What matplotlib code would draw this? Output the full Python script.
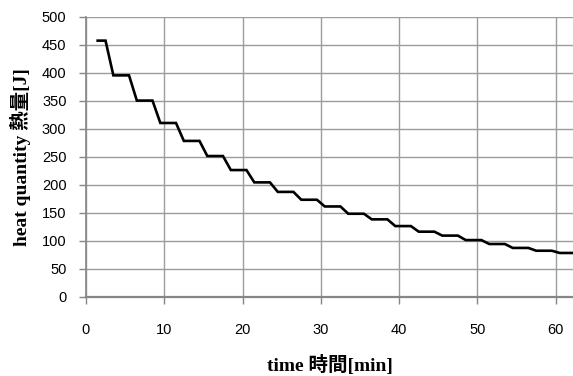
import matplotlib.pyplot as plt

# time [min] and heat quantity [J]
time_min = [1.5, 2.5, 3.5, 4.5, 5.5, 6.5, 7.5, 8.5, 9.5, 10.5,
            11.5, 12.5, 13.5, 14.5, 15.5, 16.5, 17.5, 18.5, 19.5, 20.5,
            21.5, 22.5, 23.5, 24.5, 25.5, 26.5, 27.5, 28.5, 29.5, 30.5,
            31.5, 32.5, 33.5, 34.5, 35.5, 36.5, 37.5, 38.5, 39.5, 40.5,
            41.5, 42.5, 43.5, 44.5, 45.5, 46.5, 47.5, 48.5, 49.5, 50.5,
            51.5, 52.5, 53.5, 54.5, 55.5, 56.5, 57.5, 58.5, 59.5, 60.5,
            61.5, 62.5]
heat_J = [457, 457, 395, 395, 395, 350, 350, 350, 310, 310,
          310, 278, 278, 278, 251, 251, 251, 226, 226, 226,
          204, 204, 204, 187, 187, 187, 173, 173, 173, 161,
          161, 161, 148, 148, 148, 138, 138, 138, 126, 126,
          126, 116, 116, 116, 109, 109, 109, 101, 101, 101,
          94, 94, 94, 87, 87, 87, 82, 82, 82, 78,
          78, 78]

x_ticks = [0, 10, 20, 30, 40, 50, 60]
y_ticks = [0, 50, 100, 150, 200, 250, 300, 350, 400, 450, 500]

label_font = ['Liberation Serif', 'Noto Sans CJK JP']

fig = plt.figure(figsize=(5.73, 3.76), dpi=100)
ax = fig.add_axes([0.150, 0.211, 0.850, 0.745])

ax.plot(time_min, heat_J, color='black', lw=1.9, solid_joinstyle='miter', zorder=3)

ax.set_xlim(0, 62.2)
ax.set_ylim(0, 500)
ax.set_xticks(x_ticks)
ax.set_yticks(y_ticks)

ax.grid(True, color='#9c9c9c', lw=1.0)
ax.set_axisbelow(True)

for s in ['top', 'right']:
    ax.spines[s].set_visible(False)
ax.spines['left'].set_color('#868686')
ax.spines['bottom'].set_color('#868686')
ax.spines['bottom'].set_linewidth(1.6)
ax.spines['left'].set_linewidth(1.2)

ax.tick_params(axis='both', colors='#868686', length=5, width=1.0, labelcolor='black',
               labelsize=10.5)
ax.tick_params(axis='x', pad=14)
ax.tick_params(axis='y', pad=9)
for lab in ax.get_xticklabels() + ax.get_yticklabels():
    lab.set_family('Liberation Sans')

ax.set_xlabel('time 時間[min]', family=label_font, fontweight='bold', fontsize=14, labelpad=13)
ax.set_ylabel('heat quantity 熱量[J]', family=label_font, fontweight='bold', fontsize=14, labelpad=8)

fig.savefig('out.png', dpi=100)
